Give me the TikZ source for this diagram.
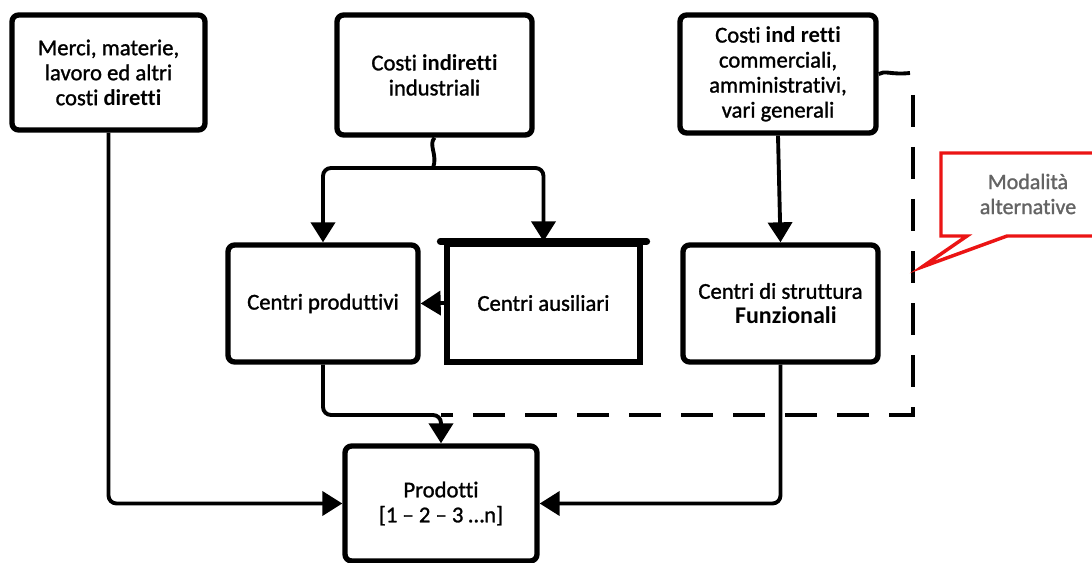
\documentclass[tikz,border=0pt]{standalone}
\usepackage{fontspec}
\setmainfont[Ligatures=NoCommon, UprightFeatures={FakeBold=1.2}]{Carlito}
\usetikzlibrary{arrows.meta}
\newdimen\pxu \pxu=0.75pt
\definecolor{callred}{RGB}{235,20,20}
\definecolor{calltxt}{RGB}{100,100,100}
\tikzset{
  box/.style={draw=black, line width=4pt, rounded corners=5pt, fill=white,
    align=center, inner sep=0pt, font=\fontsize{17}{18.75}\selectfont},
  conn/.style={draw=black, line width=2.9pt, rounded corners=6pt},
  tip/.style={-{Triangle[length=15pt,width=18pt]}},
  altern/.style={draw=black, line width=2.9pt, dash pattern=on 24pt off 15pt},
}
\begin{document}
\begin{tikzpicture}[x=0.75pt,y=-0.75pt]
\clip (0,0) rectangle (1092,563);
\useasboundingbox (0,0) rectangle (1092,563);
% boxes
\node[box, minimum width=193\pxu, minimum height=115\pxu] (b1) at (108.5,72.5)
  {Merci, materie,\\lavoro ed altri\\costi \textbf{diretti}};
\node[box, minimum width=195\pxu, minimum height=120\pxu] (b2) at (434.5,75)
  {Costi \textbf{indiretti}\\industriali};
\node[box, minimum width=196\pxu, minimum height=118\pxu] (b3) at (778,74)
  {Costi \textbf{ind retti}\\commerciali,\\amministrativi,\\vari generali};
\node[box, minimum width=190\pxu, minimum height=117\pxu] (cp) at (323,303.5)
  {Centri produttivi};
\node[box, rounded corners=0pt, minimum width=193\pxu, minimum height=118\pxu] (ca) at (543.5,303)
  {Centri ausiliari};
\draw[line width=5.2pt, line cap=round] ([xshift=-3pt]ca.north west) -- ([xshift=3pt]ca.north east);
\node[box, minimum width=195\pxu, minimum height=117\pxu] (cs) at (780.5,303.5)
  {Centri di struttura\\\hspace*{8pt}{\fontsize{18}{18.75}\selectfont\textbf{Funzionali}}};
\node[box, minimum width=192\pxu, minimum height=115\pxu] (pr) at (441,503.5)
  {Prodotti\\{}[1 -- 2 -- 3 \dots n]};
% coordinates
\coordinate (split) at (433,168);
\coordinate (join) at (441,415);
\coordinate (d1) at (910,73);
\coordinate (d2) at (913,95);
\coordinate (d3) at (913,415);
% connectors
\draw[conn] (b2.south) .. controls (428,145) and (438,155) .. (split);
\draw[conn, tip] (split) -| (cp.north);
\draw[conn, tip] (split) -| (ca.north);
\draw[conn, tip] (ca.west) -- (cp.east);
\draw[conn, tip] (b3.south) -- (cs.north);
\draw[conn, tip] (b1.south) |- (pr.west);
\draw[conn, tip] (cs.south) |- (pr.east);
\draw[conn, tip] (cp.south) |- (join) -- (pr.north);
\draw[conn] (b3.east) .. controls (885,70) and (890,75) .. (d1);
\draw[altern] (d2) -- (d3) -- (join);
% callout
\draw[draw=callred, line width=2.6pt, fill=white, line join=miter]
  (1100,153) -- (941,153) -- (941,236) -- (967,236) -- (922,267) -- (1007,236) -- (1100,236);
\node[font=\fontsize{16.5}{18.75}\selectfont, text=calltxt, align=center] (lbl) at (1028,194)
  {Modalità\\alternative};
\end{tikzpicture}
\end{document}
